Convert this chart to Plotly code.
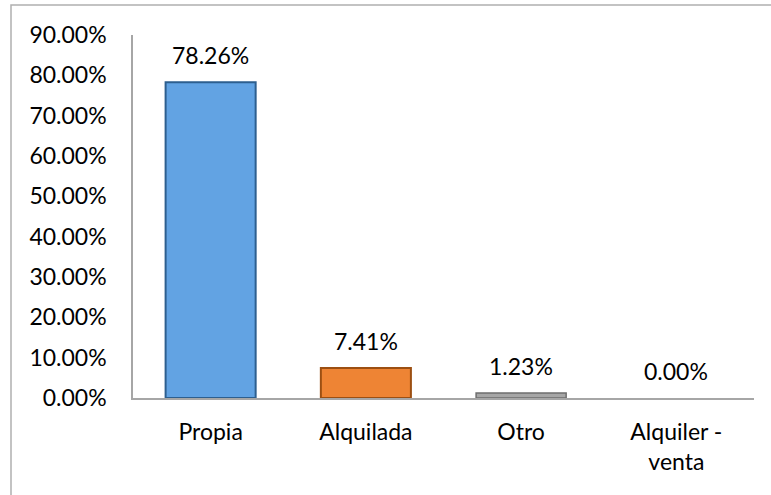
import plotly.graph_objects as go

categorias = ["Propia", "Alquilada", "Otro", "Alquiler -<br>venta"]
porcentajes = [78.26, 7.41, 1.23, 0.00]
colores = ["#62a3e3", "#ee8434", "#a6a6a6", "#62a3e3"]
bordes = ["#2d5f8f", "#9c4f12", "#6e6e6e", "#2d5f8f"]
grosor_borde = [2, 2, 1.5, 0]

W, H = 771, 495
ml, mr, mt, mb = 133, 17, 35, 97
pw, ph = W - ml - mr, H - mt - mb

fig = go.Figure()
fig.add_trace(go.Bar(
    x=categorias,
    y=porcentajes,
    marker=dict(color=colores, line=dict(color=bordes, width=grosor_borde)),
    hoverinfo="skip",
))

for c, v in zip(categorias, porcentajes):
    fig.add_annotation(x=c, y=v, text=f"{v:.2f}%", showarrow=False,
                       yanchor="middle", yshift=27,
                       font=dict(size=23, color="#000000"))

# marco del grafico (se sale de la imagen por la derecha y abajo)
fig.add_shape(type="rect", xref="paper", yref="paper",
              x0=(11 - ml) / pw, x1=(W + 20 - ml) / pw,
              y0=-(mb + 20) / ph, y1=1 + (mt - 5) / ph,
              line=dict(color="#b0b0b0", width=1.5), fillcolor="rgba(0,0,0,0)")

fig.update_layout(
    width=W, height=H,
    margin=dict(l=ml, r=mr, t=mt, b=mb),
    paper_bgcolor="white", plot_bgcolor="white",
    font=dict(family="Lato, Open Sans, sans-serif", size=23, color="#000000"),
    bargap=0.42,
    showlegend=False,
)
fig.update_yaxes(range=[0, 90], dtick=10, tickformat=".2f", ticksuffix="%",
                 showgrid=False, zeroline=False, showline=True,
                 linecolor="#a6a6a6", linewidth=1.5, ticks="",
                 ticklabelstandoff=20)
fig.update_xaxes(showgrid=False, showline=True, linecolor="#a6a6a6",
                 linewidth=1.5, ticks="", ticklabelstandoff=13)

fig.write_html("out.html", config={"displayModeBar": False},
               post_script="document.body.style.margin='0';")
